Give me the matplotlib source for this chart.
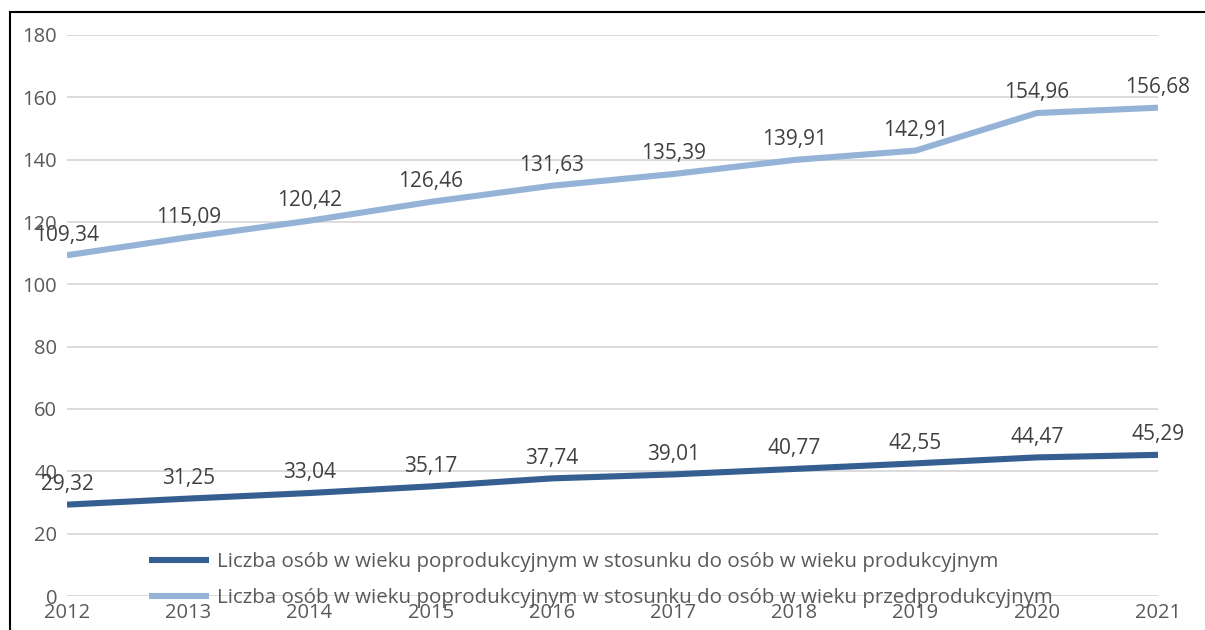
import matplotlib.pyplot as plt
from matplotlib.patches import Rectangle

lata = [2012, 2013, 2014, 2015, 2016, 2017, 2018, 2019, 2020, 2021]
produkcyjny = [29.32, 31.25, 33.04, 35.17, 37.74, 39.01, 40.77, 42.55, 44.47, 45.29]
przedprodukcyjny = [109.34, 115.09, 120.42, 126.46, 131.63, 135.39, 139.91, 142.91, 154.96, 156.68]
yticks = [0, 20, 40, 60, 80, 100, 120, 140, 160, 180]
etykiety = ['Liczba osób w wieku poprodukcyjnym w stosunku do osób w wieku produkcyjnym',
            'Liczba osób w wieku poprodukcyjnym w stosunku do osób w wieku przedprodukcyjnym']

plt.rcParams['font.family'] = ['Open Sans', 'DejaVu Sans']

fig = plt.figure(figsize=(12.05, 6.3), dpi=100)
ax = fig.add_axes([67/1205, 34/630, (1158-67)/1205, (596-35)/630])

ax.plot(lata, produkcyjny, color='#365f91', lw=4.4, label=etykiety[0], solid_capstyle='butt')
ax.plot(lata, przedprodukcyjny, color='#95b3d7', lw=4.4, label=etykiety[1], solid_capstyle='butt')

for x, y in zip(lata, produkcyjny):
    ax.annotate(f'{y:.2f}'.replace('.', ','), (x, y), xytext=(0, 7), textcoords='offset points',
                ha='center', va='bottom', fontsize=15, color='#404040')
for x, y in zip(lata, przedprodukcyjny):
    ax.annotate(f'{y:.2f}'.replace('.', ','), (x, y), xytext=(0, 7), textcoords='offset points',
                ha='center', va='bottom', fontsize=15, color='#404040')

ax.set_xlim(2012, 2021)
ax.set_ylim(0, 180)
ax.set_yticks(yticks)
ax.set_xticks(lata)
ax.grid(axis='y', color='#d9d9d9', lw=1.3)
ax.set_axisbelow(True)
for s in ax.spines.values():
    s.set_visible(False)
ax.tick_params(length=0, labelsize=14.5, labelcolor='#595959')
ax.tick_params(axis='x', pad=5)
ax.tick_params(axis='y', pad=7)

leg = ax.legend(loc='lower left', bbox_to_anchor=(0.058, -0.054), frameon=False, fontsize=14.75,
                handlelength=2.95, labelspacing=0.75, handletextpad=0.38)
for t in leg.get_texts():
    t.set_color('#595959')

fig.patches.append(Rectangle((10/1205, -0.1), 1.2, 1 - 12/630 + 0.1, transform=fig.transFigure,
                             fill=False, edgecolor='black', lw=1.5))

fig.savefig('out.png', dpi=100)
